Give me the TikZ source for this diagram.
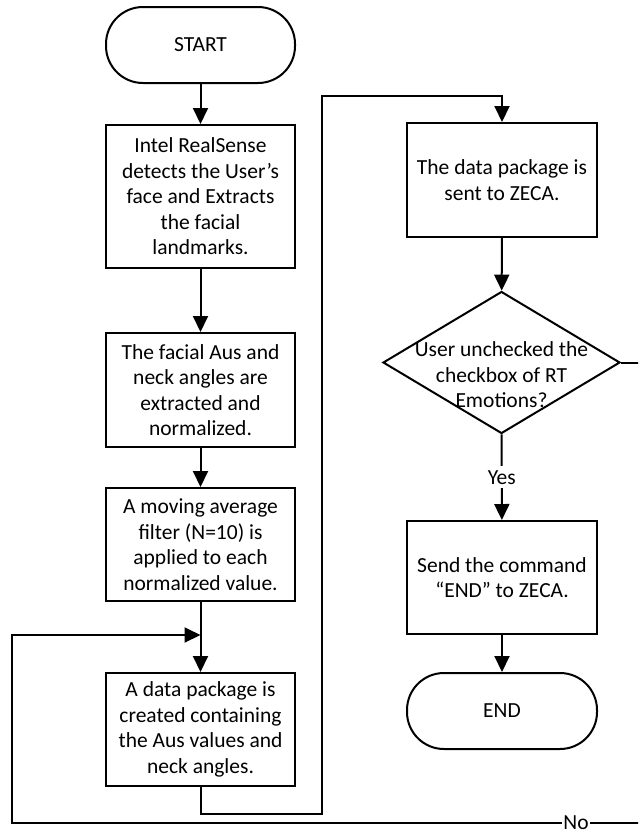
\documentclass[tikz,border=0pt]{standalone}
\usepackage{fontspec}
\setmainfont{Carlito}
\usetikzlibrary{arrows.meta,shapes.geometric}
\begin{document}
\begin{tikzpicture}[x=1pt,y=-1pt,
  font=\fontsize{21.5}{25.5}\selectfont,
  line width=2pt,
  >={Triangle[length=16pt,width=15pt]},
  stepbox/.style={draw, line width=2pt, minimum width=189pt, align=center, inner sep=0pt},
  term/.style={draw, line width=2pt, rounded corners=37pt, minimum width=189pt, minimum height=76pt, inner sep=0pt},
  decision/.style={diamond, draw, line width=2pt, minimum width=237pt, minimum height=142pt, inner sep=0pt},
  lbl/.style={fill=white, inner sep=1pt}]
\useasboundingbox (0,0) rectangle (638,836);
\clip (0,0) rectangle (638,836);

\node[term] (start) at (200.5,45) {START};
\node[stepbox, minimum height=143pt] (b1) at (200.5,196.5) {Intel RealSense\\detects the User’s\\face and Extracts\\the facial\\landmarks.};
\node[stepbox, minimum height=114pt] (b2) at (200.5,390) {The facial Aus and\\neck angles are\\extracted and\\normalized.};
\node[stepbox, minimum height=113pt] (b3) at (200.5,544.5) {A moving average\\filter (N=10) is\\applied to each\\normalized value.};
\node[stepbox, minimum height=113pt] (b4) at (200.5,729.5) {A data package is\\created containing\\the Aus values and\\neck angles.};
\node[stepbox, minimum width=190pt, minimum height=114pt] (b5) at (502,180) {The data package is\\sent to ZECA.};
\node[decision] (dec) at (501.5,362.5) {};
\node[align=center, inner sep=0pt] (dect) at (501.5,375) {User unchecked the\\checkbox of RT\\Emotions?};
\node[stepbox, minimum width=190pt, minimum height=113pt] (b6) at (502,577.5) {Send the command\\“END” to ZECA.};
\node[term, minimum width=190pt] (end) at (502,711) {END};

\coordinate (join) at (200.5,635);
\coordinate (lb) at (322,814);
\coordinate (lt) at (322,96);
\coordinate (rt) at (645,362.5);
\coordinate (rb) at (645,823);
\coordinate (lbot) at (12,823);

\draw[->] (start) -- (b1);
\draw[->] (b1) -- (b2);
\draw[->] (b2) -- (b3);
\draw[->] (b3) -- (b4);
\draw[->] (b5) -- (dec);
\draw[->] (dec) -- node[lbl, inner sep=4pt, pos=0.5] {Yes} (b6);
\draw[->] (b6) -- (end);
\draw[->] (b4.south) |- (lb) -- (lt) -| (b5.north);
\draw[->] (dec.east) -- (rt) -- (rb) -- node[lbl, pos=0.109] {No} (lbot) |- (join);
\end{tikzpicture}
\end{document}
